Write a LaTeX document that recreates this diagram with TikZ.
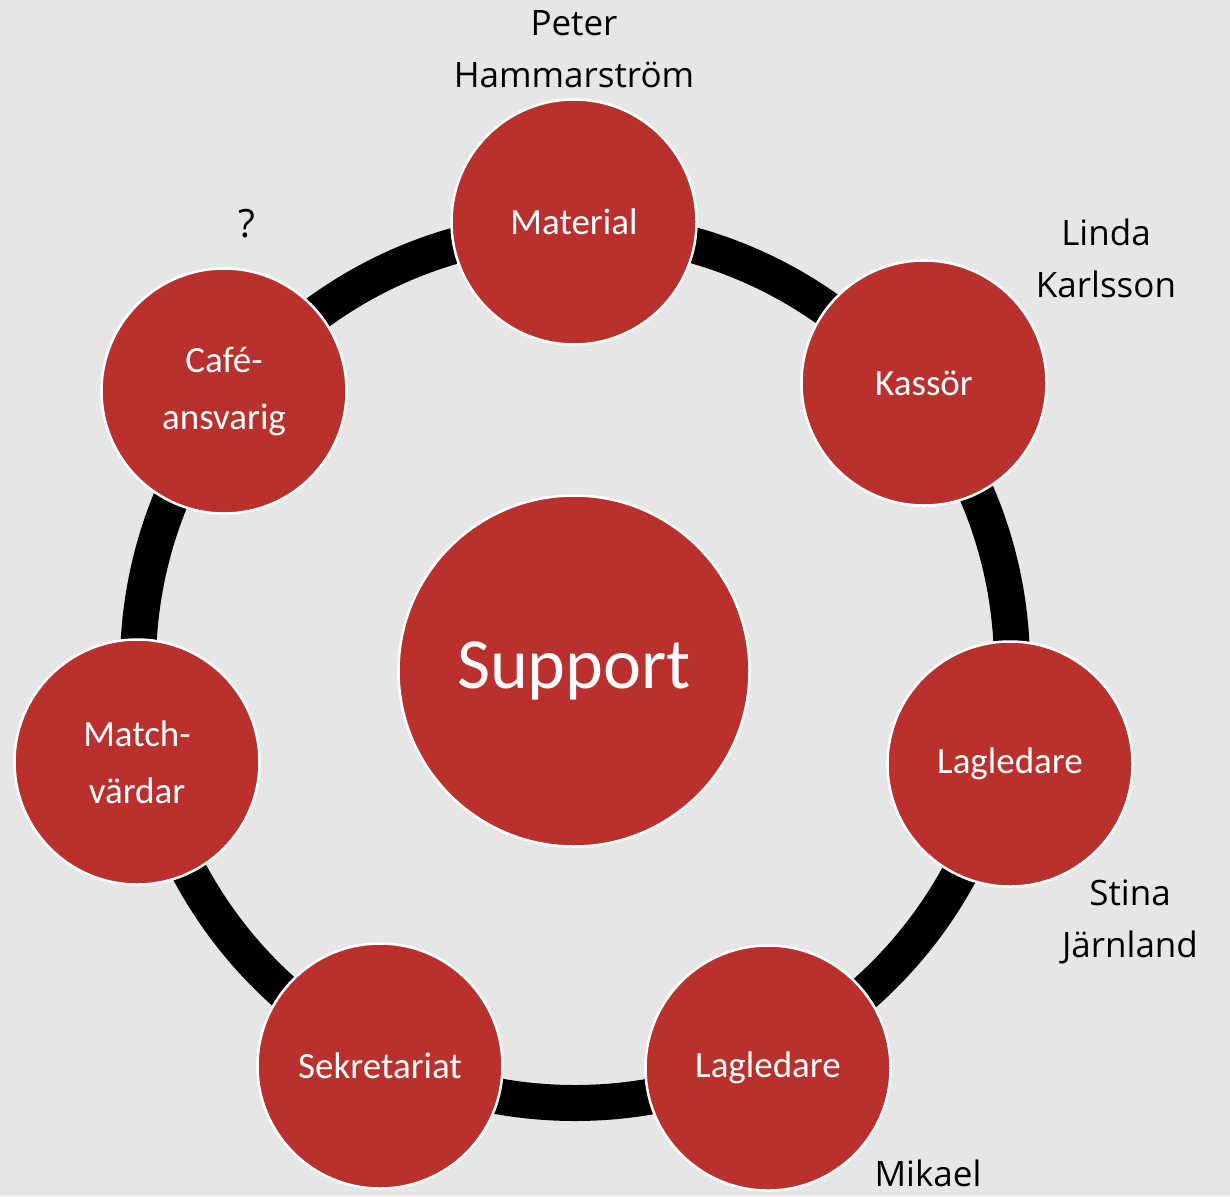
\documentclass[tikz,border=0pt]{standalone}
\usepackage{fontspec}
\setmainfont{Carlito}
\newfontfamily\namefont{Open Sans}
\usetikzlibrary{backgrounds}
\definecolor{rolered}{HTML}{B9302D}
\definecolor{slidegray}{HTML}{E7E6E6}

\begin{document}
\begin{tikzpicture}[x=1pt,y=-1pt]
  \tikzset{VertexStyle/.style = {shape=circle,fill=rolered,draw=white,line width=2.5pt,minimum size=245pt,inner sep=0pt,text=white,align=center,font=\fontsize{37}{57}\selectfont},
  NameStyle/.style = {align=center,font=\namefont\fontsize{35}{52}\selectfont},
  RingStyle/.style = {line width=36pt,color=black}}
\useasboundingbox (0,0) rectangle (1230,1196);
\node[VertexStyle,minimum size=351pt,font=\fontsize{72}{86}\selectfont] (sup) at (574,671) {Support};
\node[VertexStyle] (v0) at (574,222) {Material};
\node[VertexStyle] (v1) at (924,383) {Kassör};
\node[VertexStyle] (v2) at (1010,764) {Lagledare};
\node[VertexStyle] (v3) at (768,1068) {Lagledare};
\node[VertexStyle] (v4) at (380,1066) {Sekretariat};
\node[VertexStyle] (v5) at (137,762) {Match-\\värdar};
\node[VertexStyle] (v6) at (224,391) {Café-\\ansvarig};
%
\node[NameStyle] (n0) at (574,49) {Peter\\Hammarström};
\node[NameStyle] (n1) at (1106,258) {Linda\\Karlsson};
\node[NameStyle] (n2) at (1130,922) {Stina\\Järnland};
\node[NameStyle] (n3) at (928,1173) {Mikael};
\node[NameStyle,font=\namefont\fontsize{39}{52}\selectfont] (n6) at (247,224) {?};
%
\begin{pgfonlayer}{background}
\fill[slidegray] (0,0) rectangle (1230,1196);
\draw[RingStyle] ([xshift=1pt,yshift=5pt]sup.center) circle (437);
\end{pgfonlayer}
\end{tikzpicture}
\end{document}
